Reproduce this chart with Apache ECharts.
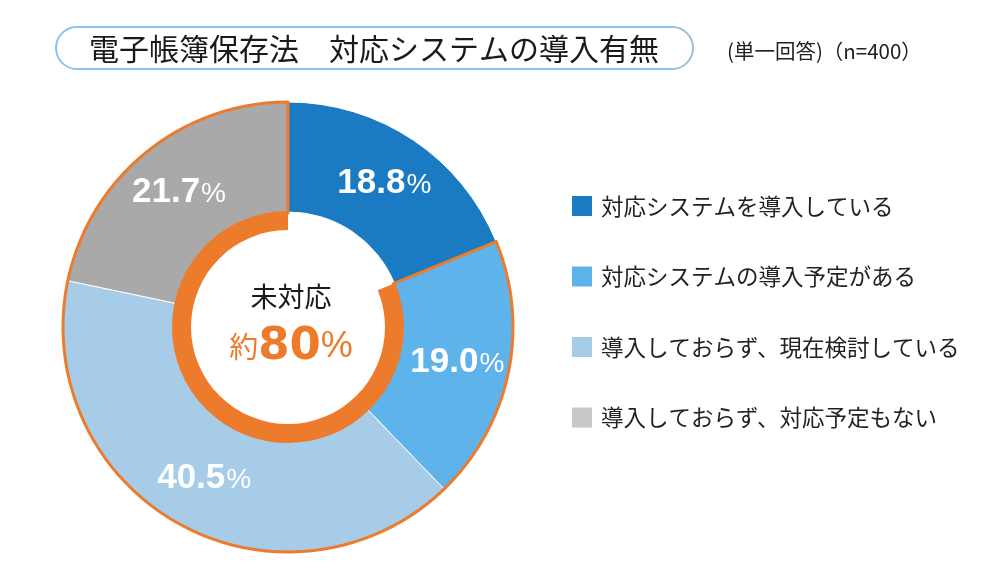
<!DOCTYPE html>
<html>
<head>
<meta charset="utf-8">
<script src="https://cdn.jsdelivr.net/npm/echarts@6/dist/echarts.min.js"></script>
<style>
  html, body { margin: 0; padding: 0; background: #fff; }
  #main { width: 1000px; height: 584px; }
</style>
</head>
<body>
<div id="main"></div>
<script>
var categories = ['対応システムを導入している', '対応システムの導入予定がある', '導入しておらず、現在検討している', '導入しておらず、対応予定もない'];
var shares = [18.8, 19.0, 40.5, 21.7];
var titleText = '電子帳簿保存法　対応システムの導入有無';
var noteText = '(単一回答)（n=400）';
var centerHead = '未対応';
var centerValue = '80';

var chart = echarts.init(document.getElementById('main'));

var orange = '#ec7b2c';
var jp = '"Noto Sans CJK JP", sans-serif';
var num = '"Liberation Sans", Arial, sans-serif';

// 未対応 = everything except the first category
var done = shares[0];
var notDone = 0;
for (var i = 1; i < shares.length; i++) notDone += shares[i];

var option = {
  color: ['#1a7bc3', '#5fb3eb', '#a6cce8', '#a9a9a9'],
  title: [{
    text: titleText,
    left: 369,
    top: 29,
    textAlign: 'center',
    textStyle: { fontFamily: jp, fontSize: 30, fontWeight: 'normal', color: '#1a1a1a' }
  }, {
    text: noteText,
    left: 722,
    top: 36,
    textStyle: { fontFamily: jp, fontSize: 20.5, fontWeight: 'normal', color: '#222' }
  }, {
    text: '{h|' + centerHead + '}\n{y|約}{n|' + centerValue + '}{p|%}',
    left: 286,
    top: 268,
    textAlign: 'center',
    textStyle: {
      rich: {
        h: { fontFamily: jp, fontSize: 27, fontWeight: 'normal', color: '#1a1a1a', lineHeight: 48, align: 'center' },
        y: { fontFamily: jp, fontSize: 29, fontWeight: 'normal', color: orange },
        n: { fontFamily: '"DejaVu Sans", sans-serif', fontSize: 45, fontWeight: 'bold', color: orange, lineHeight: 52 },
        p: { fontFamily: num, fontSize: 36, fontWeight: 'normal', color: orange }
      }
    }
  }],
  graphic: [{
    type: 'rect',
    shape: { x: 56, y: 27, width: 637, height: 42, r: 21 },
    style: { fill: 'none', stroke: '#8fc3ea', lineWidth: 2 },
    silent: true
  }],
  legend: {
    orient: 'vertical',
    left: 565,
    top: 189,
    itemWidth: 22,
    itemHeight: 22,
    itemGap: 46.5,
    icon: 'rect',
    textStyle: { fontFamily: jp, fontSize: 22.5, color: '#222', padding: [0, 0, 0, 3] },
    data: [
      { name: categories[0] },
      { name: categories[1] },
      { name: categories[2] },
      { name: categories[3], itemStyle: { color: '#c8c8c8' } }
    ],
    selectedMode: false
  },
  series: [{
    type: 'pie',
    center: [288, 327],
    radius: [115, 225],
    startAngle: 90,
    clockwise: true,
    animation: false,
    silent: true,
    itemStyle: { borderColor: '#fff', borderWidth: 1 },
    label: {
      position: 'inside',
      formatter: function (p) {
        return '{v|' + p.value.toFixed(1) + '}{p|%}';
      },
      rich: {
        v: { fontFamily: num, fontSize: 35, fontWeight: 'bold', color: '#fff' },
        p: { fontFamily: num, fontSize: 28, color: '#fff', padding: [3, 0, 0, 1] }
      }
    },
    labelLine: { show: false },
    data: categories.map(function (c, i) { return { name: c, value: shares[i] }; })
  }, {
    // orange outline around the 未対応 group
    type: 'pie',
    center: [288, 327],
    radius: [114, 225],
    startAngle: 90,
    animation: false,
    silent: true,
    label: { show: false },
    labelLine: { show: false },
    data: [
      { name: 'done', value: done, itemStyle: { color: 'rgba(0,0,0,0)', borderWidth: 0 } },
      { name: 'notDone', value: notDone, itemStyle: { color: 'rgba(0,0,0,0)', borderColor: orange, borderWidth: 3 } }
    ]
  }, {
    // inner orange arc
    type: 'pie',
    center: [288, 327],
    radius: [97, 116],
    startAngle: 90,
    animation: false,
    silent: true,
    label: { show: false },
    labelLine: { show: false },
    data: [
      { name: 'done', value: done, itemStyle: { color: 'rgba(0,0,0,0)' } },
      { name: 'notDone', value: notDone, itemStyle: { color: orange } }
    ]
  }]
};

chart.setOption(option);
</script>
</body>
</html>
